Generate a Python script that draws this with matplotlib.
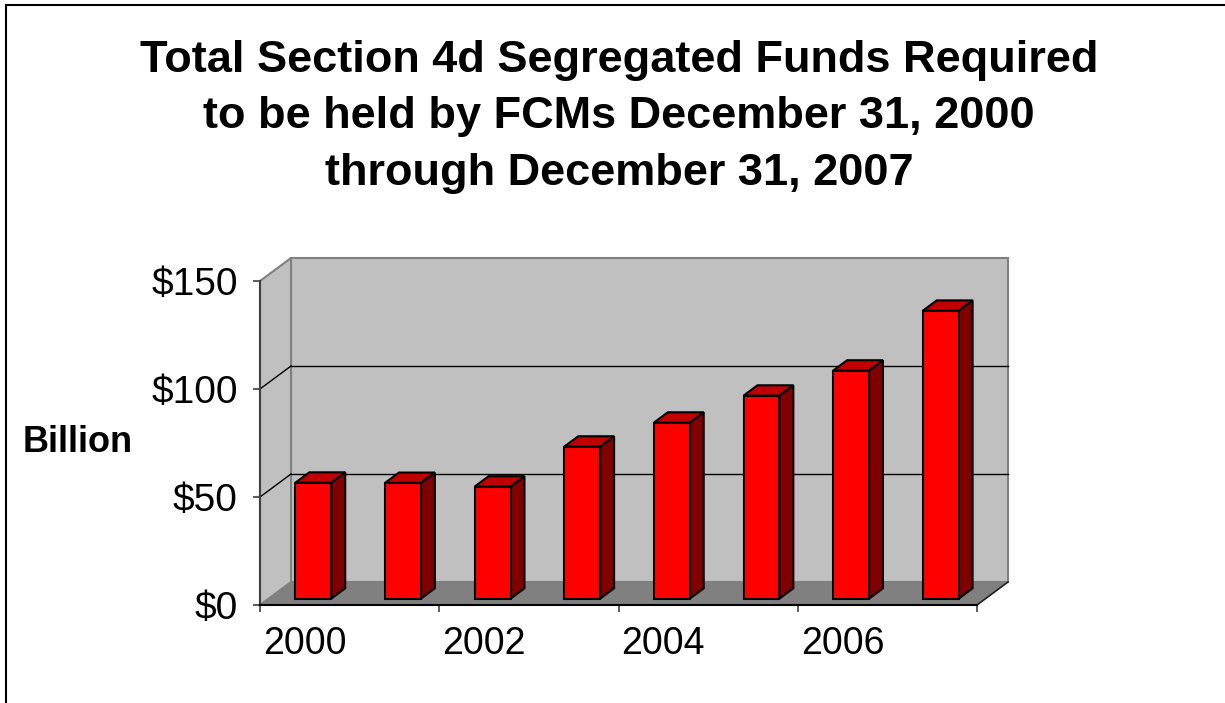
import matplotlib
matplotlib.use("Agg")
import matplotlib.pyplot as plt
from matplotlib.patches import Polygon
from matplotlib.lines import Line2D

# data (billions of dollars, Dec 31 each year)
years = [2000, 2001, 2002, 2003, 2004, 2005, 2006, 2007]
funds = [53.7, 53.6, 51.9, 70.4, 81.5, 94.0, 105.6, 133.3]
y_ticks = [0, 50, 100, 150]
y_tick_labels = ["$0", "$50", "$100", "$150"]
x_label_years = [2000, 2002, 2004, 2006]

title_lines = ["Total Section 4d Segregated Funds Required",
               "to be held by FCMs December 31, 2000",
               "through December 31, 2007"]

plt.rcParams['font.family'] = ['Liberation Sans', 'DejaVu Sans']

W, H = 1225, 703
fig = plt.figure(figsize=(W / 100, H / 100), dpi=100)
fig.patch.set_facecolor('white')

# front plane of the 3d box, in pixels
left, right, top, bottom = 260, 977, 281, 605
ax = fig.add_axes([left / W, 1 - bottom / H, (right - left) / W, (bottom - top) / H])
ax.set_facecolor('none')
n = len(years)
ax.set_xlim(0, n)
ax.set_ylim(0, 150)

# depth of the box in data units
dx = 0.346
dy = 10.65
# bar geometry: width, depth fraction, where it sits in the depth
bw = 0.40
bdepth = 0.45
f0 = (1 - bdepth) / 2

wall_c = '#c0c0c0'
floor_c = '#808080'
edge_c = '#808080'

# back wall
ax.add_patch(Polygon([(dx, dy), (n + dx, dy), (n + dx, 150 + dy), (dx, 150 + dy)],
                     closed=True, facecolor=wall_c, edgecolor=edge_c, lw=1.5,
                     clip_on=False, zorder=1))
# left side wall
ax.add_patch(Polygon([(0, 0), (dx, dy), (dx, 150 + dy), (0, 150)],
                     closed=True, facecolor=wall_c, edgecolor=edge_c, lw=1.5,
                     clip_on=False, zorder=1))
# floor
ax.add_patch(Polygon([(0, 0), (n, 0), (n + dx, dy), (dx, dy)],
                     closed=True, facecolor=floor_c, edgecolor='none',
                     clip_on=False, zorder=2))
ax.plot([n, n + dx], [0, dy], color='#202020', lw=1.2, clip_on=False, zorder=2)

# gridlines on back wall and side wall
for g in y_ticks[1:-1]:
    ax.plot([dx, n + dx], [g + dy, g + dy], color='black', lw=1, clip_on=False, zorder=2)
    ax.plot([0, dx], [g, g + dy], color='black', lw=1, clip_on=False, zorder=2)

# bars as simple 3d blocks
front_c = '#ff0000'
top_c = '#c00000'
side_c = '#800000'
bdx = dx * bdepth
bdy = dy * bdepth
for i, v in enumerate(funds):
    x0 = i + 0.5 - bw / 2 + f0 * dx
    y0 = f0 * dy
    y1 = y0 + v
    ax.add_patch(Polygon([(x0 + bw, y0), (x0 + bw + bdx, y0 + bdy),
                          (x0 + bw + bdx, y1 + bdy), (x0 + bw, y1)],
                         closed=True, facecolor=side_c, edgecolor='black', lw=1.5,
                         joinstyle='miter', clip_on=False, zorder=3))
    ax.add_patch(Polygon([(x0, y1), (x0 + bw, y1), (x0 + bw + bdx, y1 + bdy), (x0 + bdx, y1 + bdy)],
                         closed=True, facecolor=top_c, edgecolor='black', lw=1.5,
                         joinstyle='miter', clip_on=False, zorder=3))
    ax.add_patch(Polygon([(x0, y0), (x0 + bw, y0), (x0 + bw, y1), (x0, y1)],
                         closed=True, facecolor=front_c, edgecolor='black', lw=1.5,
                         joinstyle='miter', clip_on=False, zorder=4))

# axes: keep left and bottom spines only
for s in ['top', 'right']:
    ax.spines[s].set_visible(False)
ax.spines['left'].set_color('#404040')
ax.spines['bottom'].set_color('black')
ax.spines['left'].set_linewidth(1.5)
ax.spines['bottom'].set_linewidth(1.5)
ax.spines['left'].set_zorder(5)
ax.spines['bottom'].set_zorder(5)

ax.set_yticks(y_ticks)
ax.set_yticklabels(y_tick_labels)
ax.tick_params(axis='y', direction='out', length=5, width=1.2, pad=11,
               labelsize=28, color='#404040')

ax.set_xticks(range(0, n + 1, 2))
ax.set_xticklabels([])
ax.set_xticks([years.index(y) + 0.5 for y in x_label_years], minor=True)
ax.set_xticklabels([str(y) for y in x_label_years], minor=True)
ax.tick_params(axis='x', which='major', direction='out', length=5, width=1.2, color='#404040')
ax.tick_params(axis='x', which='minor', length=0, pad=15, labelsize=27)

fig.text(78 / W, 1 - 443 / H, "Billion", fontsize=26, fontweight='bold',
         ha='center', va='center')

# title, one line at a time so the baselines match
for line, base in zip(title_lines, [72, 128, 185]):
    fig.text(619 / W, 1 - base / H, line, fontsize=32.5, fontweight='bold',
             ha='center', va='baseline')

# outer frame (only left and top edges are inside the picture)
fig.add_artist(Line2D([6 / W, 6 / W], [0, 1 - 5 / H], color='black', lw=1.5))
fig.add_artist(Line2D([6 / W, 1], [1 - 5 / H, 1 - 5 / H], color='black', lw=1.5))

fig.savefig('out.png', dpi=100)
